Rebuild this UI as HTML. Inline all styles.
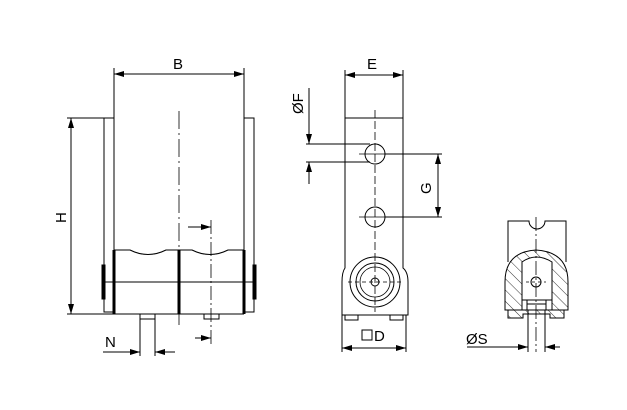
<!DOCTYPE html>
<html><head><meta charset="utf-8"><style>html,body{margin:0;padding:0;background:#fff}svg{display:block}</style></head><body>
<svg width="627" height="410" viewBox="0 0 627 410" xmlns="http://www.w3.org/2000/svg" font-family="Liberation Sans, sans-serif">
<defs>
<marker id="a" viewBox="0 0 10 6" refX="10" refY="3" markerWidth="10" markerHeight="6" orient="auto-start-reverse" markerUnits="userSpaceOnUse"><path d="M0,0L10,3L0,6z" fill="#000"/></marker>
<pattern id="h" width="8" height="8" patternUnits="userSpaceOnUse" patternTransform="rotate(-45)"><line x1="0" y1="0" x2="0" y2="8" stroke="#000" stroke-width="0.8"/></pattern>
</defs>
<g stroke="#000" fill="none" stroke-width="1">
<!-- LEFT VIEW -->
<line x1="114" y1="68" x2="114" y2="250"/><line x1="244" y1="68" x2="244" y2="250"/>
<line x1="114" y1="74" x2="244" y2="74" marker-start="url(#a)" marker-end="url(#a)"/>
<rect x="104" y="118" width="10" height="194" fill="#fff"/>
<rect x="244" y="118" width="10" height="194" fill="#fff"/>
<rect x="102" y="265" width="3" height="34" fill="#000"/>
<rect x="253" y="265" width="3" height="34" fill="#000"/>
<path d="M114,250 L130,250 Q148,259 166,250 L192,250 Q210,259 228,250 L244,250"/>
<line x1="114" y1="282" x2="254" y2="282"/><line x1="104" y1="282" x2="114" y2="282"/>
<line x1="114" y1="314" x2="244" y2="314"/>
<line x1="114" y1="250" x2="114" y2="314" stroke-width="3"/>
<line x1="179" y1="250" x2="179" y2="314" stroke-width="3"/>
<line x1="244" y1="250" x2="244" y2="314" stroke-width="3"/>
<line x1="179" y1="111" x2="179" y2="326" stroke-dasharray="18,4,2,4" stroke-width="0.8"/>
<line x1="211" y1="220" x2="211" y2="346" stroke-dasharray="14,3,2,3" stroke-width="0.8"/>
<line x1="188" y1="227" x2="211" y2="227" marker-end="url(#a)"/>
<line x1="195" y1="338" x2="211" y2="338" marker-end="url(#a)"/>
<line x1="67" y1="118" x2="104" y2="118"/><line x1="67" y1="314" x2="114" y2="314"/>
<line x1="71" y1="118" x2="71" y2="314" marker-start="url(#a)" marker-end="url(#a)"/>
<rect x="140" y="314" width="15" height="5"/>
<rect x="204" y="314" width="15" height="5"/>
<line x1="140" y1="319" x2="140" y2="356"/><line x1="155" y1="319" x2="155" y2="356"/>
<line x1="103" y1="352" x2="140" y2="352" marker-end="url(#a)"/>
<line x1="175" y1="352" x2="155" y2="352" marker-end="url(#a)"/>
<!-- MIDDLE VIEW -->
<line x1="345" y1="70" x2="345" y2="118"/><line x1="403" y1="70" x2="403" y2="118"/>
<line x1="345" y1="75" x2="403" y2="75" marker-start="url(#a)" marker-end="url(#a)"/>
<path d="M345,118 L403,118 L403,268 Q408,272 408,282 L408,315 L342,315 L342,282 Q342,272 345,268 Z" fill="#fff"/>
<line x1="375" y1="110" x2="375" y2="312" stroke-dasharray="8,3" stroke-width="0.8"/>
<circle cx="375" cy="154" r="10"/><line x1="359" y1="154" x2="391" y2="154" stroke-width="0.8"/>
<circle cx="375" cy="217" r="10"/><line x1="359" y1="217" x2="391" y2="217" stroke-width="0.8"/>
<circle cx="375" cy="282" r="25"/><circle cx="375" cy="282" r="19"/><circle cx="375" cy="282" r="15" stroke-width="0.8"/><circle cx="375" cy="282" r="4"/>
<line x1="348" y1="282" x2="402" y2="282" stroke-dasharray="4,3" stroke-width="0.8"/>
<rect x="345" y="315" width="13" height="5"/><rect x="390" y="315" width="13" height="5"/>
<line x1="306" y1="144" x2="370" y2="144"/><line x1="306" y1="162" x2="370" y2="162"/>
<line x1="309" y1="88" x2="309" y2="144" marker-end="url(#a)"/>
<line x1="309" y1="184" x2="309" y2="162" marker-end="url(#a)"/>
<line x1="385" y1="154" x2="442" y2="154"/><line x1="385" y1="217" x2="442" y2="217"/>
<line x1="438" y1="154" x2="438" y2="217" marker-start="url(#a)" marker-end="url(#a)"/>
<line x1="342" y1="315" x2="342" y2="352"/><line x1="406" y1="315" x2="406" y2="352"/>
<line x1="342" y1="348" x2="406" y2="348" marker-start="url(#a)" marker-end="url(#a)"/>
<rect x="362" y="330" width="10" height="10"/>
<!-- RIGHT VIEW -->
<path d="M508,262 L508,221 L529,221 A8,8 0 0 0 545,221 L566,221 L566,262"/>
<path d="M505,310 L505,282 Q505,252 536,250 Q568,252 568,282 L568,310 L564,310 L564,318 L550,318 L550,314 L523,314 L523,318 L508,318 L508,310 Z M522,300 L522,262 Q536,252 552,262 L552,300 Z" fill="url(#h)" fill-rule="evenodd"/>
<path d="M522,300 L552,300 L552,310 L522,310 Z" fill="#fff"/>
<line x1="505" y1="310" x2="568" y2="310"/>
<line x1="527" y1="300" x2="527" y2="310"/><line x1="546" y1="300" x2="546" y2="310"/>
<line x1="527" y1="304" x2="546" y2="304"/>
<line x1="536" y1="217" x2="536" y2="352" stroke-dasharray="14,3,2,3" stroke-width="0.8"/>
<circle cx="536" cy="282" r="5"/>
<line x1="526" y1="282" x2="546" y2="282" stroke-dasharray="3,3" stroke-width="0.8"/>
<line x1="528" y1="310" x2="528" y2="352"/><line x1="545" y1="310" x2="545" y2="352"/>
<line x1="467" y1="347" x2="528" y2="347" marker-end="url(#a)"/>
<line x1="560" y1="347" x2="545" y2="347" marker-end="url(#a)"/>
</g>
<g font-size="15" fill="#000">
<text x="173" y="69">B</text>
<text x="367" y="69">E</text>
<text x="105" y="347">N</text>
<text x="374" y="341">D</text>
<text x="466" y="344">ØS</text>
<text transform="translate(66,223) rotate(-90)">H</text>
<text transform="translate(303,114) rotate(-90)">ØF</text>
<text transform="translate(431,194) rotate(-90)">G</text>
</g>
</svg>
</body></html>
